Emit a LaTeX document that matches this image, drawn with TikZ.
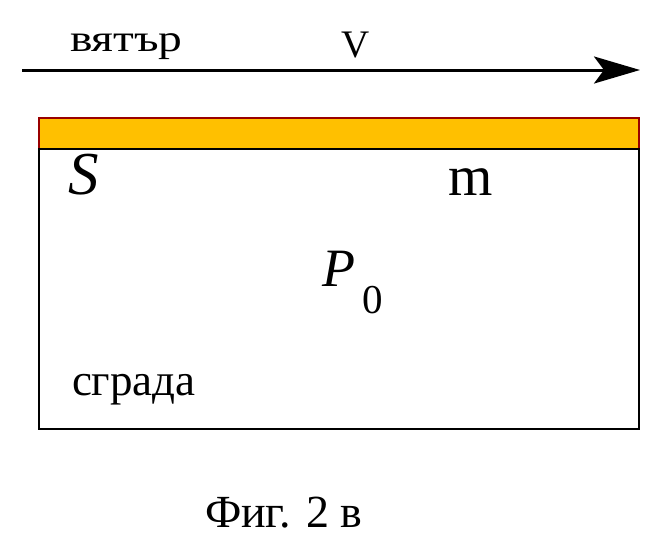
\documentclass[tikz,border=0pt]{standalone}
\usepackage{fontspec}
\setmainfont{Liberation Serif}
\usetikzlibrary{arrows.meta}
\definecolor{roofgold}{HTML}{FFC000}
\definecolor{roofred}{HTML}{990000}
\tikzset{
  lbl/.style={inner sep=0pt, outer sep=0pt, anchor=base west},
  fs/.style={font=\fontsize{#1}{#1}\selectfont}
}
\begin{document}
\begin{tikzpicture}[x=1pt,y=-1pt]
\useasboundingbox (0,0) rectangle (657,544);
% wind arrow
\coordinate (wstart) at (22,70);
\coordinate (wend) at (640,70);
\draw[line width=3pt, -{Stealth[length=46pt,width=27pt,inset=10pt]}] (wstart) -- (wend);
\node[lbl, fs=38] (wind) at (70,51) {\scalebox{1.25}[1]{вятър}};
\node[lbl, fs=39] (vel) at (341,57) {V};
% roof
\node[draw=roofred, fill=roofgold, line width=2pt, minimum width=600pt, minimum height=31pt, inner sep=0pt, anchor=north west] (roof) at (38,117) {};
% building
\node[draw=black, line width=1.5pt, minimum width=600pt, minimum height=280pt, inner sep=0pt, anchor=north west] (bldg) at (38,148) {};
\node[lbl, fs=61] (S) at (68,194) {\itshape S};
\node[lbl, fs=57] (m) at (448,195) {m};
\node[lbl, fs=54] (P) at (322,286) {\itshape P};
\node[lbl, fs=41] (zero) at (362,313) {0};
\node[lbl, fs=45] (sgr) at (72,395) {сграда};
\node[lbl, fs=46] (cap) at (205,527) {Фиг. 2 в};
\end{tikzpicture}
\end{document}
